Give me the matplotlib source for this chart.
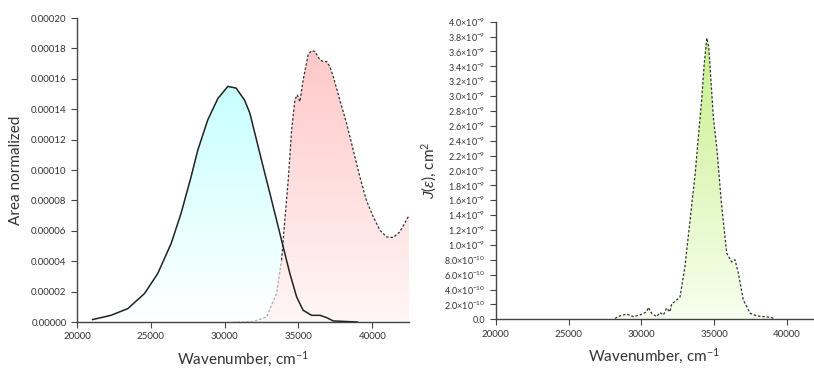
import numpy as np
import matplotlib.pyplot as plt
from matplotlib.colors import LinearSegmentedColormap

plt.rcParams['font.family'] = ['Lato', 'DejaVu Sans']
plt.rcParams['mathtext.fontset'] = 'custom'
plt.rcParams['mathtext.rm'] = 'Lato'
plt.rcParams['mathtext.it'] = 'Liberation Sans:italic'

# emission (solid, cyan)
em_x = np.array([21060, 22300, 23440, 24570, 25470, 26380, 27050, 27730, 28180, 28860,
                 29540, 30220, 30780, 31350, 31710, 32160, 32610, 33070, 33520, 33970,
                 34420, 34880, 35320, 35890, 36460, 36910, 37360, 39000])
em_y = np.array([1.6, 4.4, 8.8, 18.7, 31.9, 51.7, 71.5, 95.6, 113.0, 133.0,
                 147.0, 155.0, 153.9, 146.0, 137.4, 119.8, 102.2, 84.6, 67.0, 49.4,
                 31.9, 16.5, 7.7, 4.4, 4.4, 2.9, 0.7, 0.0]) * 1e-6

# absorption (dotted, red)
ab_x = np.array([30580, 31930, 32840, 33520, 33860, 34080, 34310, 34540, 34760, 34920,
                 35100, 35320, 35660, 35890, 36115, 36455, 36680, 36905, 37130, 37360,
                 37810, 38260, 38710, 39160, 39600, 40070, 40520, 40970, 41420, 41870,
                 42500])
ab_y = np.array([0.0, 0.3, 3.3, 18.7, 40.7, 67.0, 93.4, 126.4, 146.0, 149.4,
                 145.0, 159.3, 175.8, 178.5, 178.0, 172.5, 171.4, 171.4, 168.0, 161.5,
                 146.0, 130.8, 113.2, 95.6, 80.2, 69.2, 60.4, 56.0, 55.6, 59.3,
                 70.3]) * 1e-6

# overlap integral J(eps)
j_x = np.array([28190, 28530, 28990, 29450, 29910, 30370, 30480, 30710, 31060, 31290,
                31520, 31740, 31970, 32090, 32320, 32660, 33000, 33350, 33700, 33920,
                34150, 34310, 34500, 34640, 34770, 34960, 35180, 35530, 35870, 36210,
                36440, 36670, 37010, 37480, 37940, 38400, 38860, 39090])
j_y = np.array([0.13, 0.45, 0.70, 0.36, 0.58, 1.0, 1.6, 0.8, 0.36, 0.9,
                0.58, 1.5, 1.0, 2.1, 2.4, 3.0, 7.1, 13.3, 19.5, 24.5,
                29.5, 34.0, 37.8, 36.6, 32.6, 27.0, 23.2, 15.1, 8.9, 7.7,
                8.0, 6.2, 2.6, 0.8, 0.45, 0.36, 0.27, 0.13]) * 1e-10

left_yticks = np.arange(0, 0.000201, 0.00002)
left_ylabels = ['%.5f' % v for v in left_yticks]
right_yticks = np.arange(0, 4.01e-9, 2e-10)
right_ylabels = ['0.0'] + [r'$%.1f{\times}10^{-10}$' % (v * 1e10) for v in right_yticks[1:5]] + \
                [r'$%.1f{\times}10^{-9}$' % (v * 1e9) for v in right_yticks[5:]]
xticks = [20000, 25000, 30000, 35000, 40000]

TXT = '#333333'


def gradient_fill(ax, x, y, top, bottom, ymax, z):
    poly = ax.fill_between(x, y, 0, color='none', lw=0)
    cmap = LinearSegmentedColormap.from_list('g', [bottom, top])
    grad = np.linspace(0, 1, 256).reshape(-1, 1)
    im = ax.imshow(grad, cmap=cmap, aspect='auto', origin='lower',
                   extent=[x.min(), x.max(), 0, ymax], zorder=z)
    im.set_clip_path(poly.get_paths()[0], transform=ax.transData)


def style(ax):
    for s in ['top', 'right']:
        ax.spines[s].set_visible(False)
    for s in ['left', 'bottom']:
        ax.spines[s].set_color('#444444')
        ax.spines[s].set_linewidth(1.0)
    ax.tick_params(direction='out', length=4, width=0.8, color='#444444',
                   labelsize=7, labelcolor=TXT)
    ax.set_xticks(xticks)
    ax.set_xticklabels([str(v) for v in xticks])


fig = plt.figure(figsize=(8.14, 3.72), dpi=100)

ax1 = fig.add_axes([0.0946, 0.1344, 0.408, 0.8172])
gradient_fill(ax1, em_x, em_y, '#c8ffff', '#ffffff', 0.000156, 1)
gradient_fill(ax1, ab_x, ab_y, '#ffc8c8', '#fff6f6', 0.000179, 2)
ax1.plot(em_x, em_y, color='#222222', lw=1.1, zorder=4)
k = 5
ax1.plot(ab_x[:k], ab_y[:k], color='#aaaaaa', lw=0.9, ls=(0, (2, 1.5)), zorder=3)
ax1.plot(ab_x[k - 1:], ab_y[k - 1:], color='#333333', lw=0.9, ls=(0, (2, 1.5)), zorder=3)
ax1.set_xlim(20000, 42500)
ax1.set_ylim(0, 0.0002)
ax1.set_yticks(left_yticks)
ax1.set_yticklabels(left_ylabels)
style(ax1)
ax1.set_xlabel('Wavenumber, cm$^{-1}$', fontsize=11, color=TXT, labelpad=6)
ax1.set_ylabel('Area normalized', fontsize=11, color=TXT, labelpad=6)

ax2 = fig.add_axes([0.609, 0.1417, 0.3898, 0.8000])
gradient_fill(ax2, j_x, j_y, '#c8f08c', '#f8fff0', 3.78e-9, 1)
ax2.plot(j_x, j_y, color='#333333', lw=0.9, ls=(0, (2, 1.5)), zorder=3)
ax2.set_xlim(20000, 41800)
ax2.set_ylim(0, 4.0e-9)
ax2.set_yticks(right_yticks)
ax2.set_yticklabels(right_ylabels)
style(ax2)
ax2.tick_params(axis='y', labelsize=6.5)
ax2.set_xlabel('Wavenumber, cm$^{-1}$', fontsize=11, color=TXT, labelpad=6)
ax2.set_ylabel(r'$J(\varepsilon)$, cm$^2$', fontsize=11, color=TXT, labelpad=4)

fig.savefig('out.png', dpi=100)
